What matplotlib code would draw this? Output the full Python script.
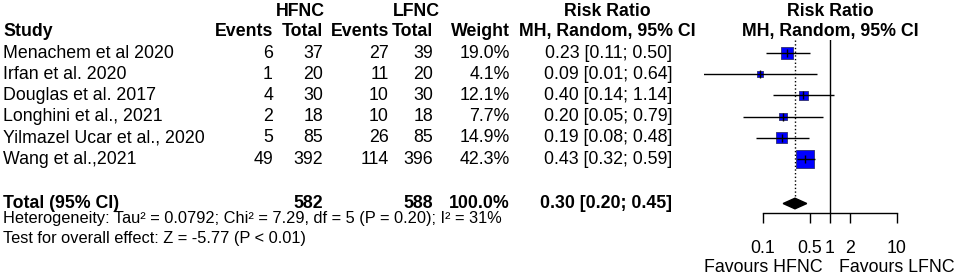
import matplotlib.pyplot as plt
import numpy as np

plt.rcParams['font.family'] = ['Liberation Sans', 'DejaVu Sans']

studies = ["Menachem et al 2020", "Irfan et al. 2020", "Douglas et al. 2017",
           "Longhini et al., 2021", "Yilmazel Ucar et al., 2020", "Wang et al.,2021"]
hfnc_events = [6, 1, 4, 2, 5, 49]
hfnc_total = [37, 20, 30, 18, 85, 392]
lfnc_events = [27, 11, 10, 10, 26, 114]
lfnc_total = [39, 20, 30, 18, 85, 396]
weights = [19.0, 4.1, 12.1, 7.7, 14.9, 42.3]
rr = [0.23, 0.09, 0.40, 0.20, 0.19, 0.43]
rr_low = [0.11, 0.01, 0.14, 0.05, 0.08, 0.32]
rr_high = [0.50, 0.64, 1.14, 0.79, 0.48, 0.59]

total_hfnc = 582
total_lfnc = 588
total_weight = 100.0
pooled_rr = 0.30
pooled_low = 0.20
pooled_high = 0.45

xticks = [0.1, 0.5, 1, 2, 10]
xticklabels = ["0.1", "0.5", "1", "2", "10"]

W, H = 957, 276
FS = 12.8
FS_B = 12.8
FS_SMALL = 11.8


def fx(px):
    return px / W


def fy(py):
    return 1 - py / H


def row_px(k):
    return 53 + 21.2 * k


fig = plt.figure(figsize=(W / 100, H / 100), dpi=100)

# table headers
hdr = dict(fontsize=FS_B, fontweight='bold', va='center')
fig.text(fx(300), fy(12), "HFNC", ha='center', **hdr)
fig.text(fx(416), fy(12), "LFNC", ha='center', **hdr)
fig.text(fx(607), fy(12), "Risk Ratio", ha='center', **hdr)
fig.text(fx(830), fy(12), "Risk Ratio", ha='center', **hdr)
fig.text(fx(3), fy(31), "Study", ha='left', **hdr)
fig.text(fx(273), fy(31), "Events", ha='right', **hdr)
fig.text(fx(323), fy(31), "Total", ha='right', **hdr)
fig.text(fx(389), fy(31), "Events", ha='right', **hdr)
fig.text(fx(433), fy(31), "Total", ha='right', **hdr)
fig.text(fx(510), fy(31), "Weight", ha='right', **hdr)
fig.text(fx(607), fy(31), "MH, Random, 95% CI", ha='center', **hdr)
fig.text(fx(830), fy(31), "MH, Random, 95% CI", ha='center', **hdr)

# study rows
for k, name in enumerate(studies):
    y = fy(row_px(k))
    fig.text(fx(3), y, name, ha='left', va='center', fontsize=FS)
    fig.text(fx(273), y, str(hfnc_events[k]), ha='right', va='center', fontsize=FS)
    fig.text(fx(323), y, str(hfnc_total[k]), ha='right', va='center', fontsize=FS)
    fig.text(fx(389), y, str(lfnc_events[k]), ha='right', va='center', fontsize=FS)
    fig.text(fx(433), y, str(lfnc_total[k]), ha='right', va='center', fontsize=FS)
    fig.text(fx(510), y, f"{weights[k]:.1f}%", ha='right', va='center', fontsize=FS)
    fig.text(fx(672), y, f"{rr[k]:.2f} [{rr_low[k]:.2f}; {rr_high[k]:.2f}]",
             ha='right', va='center', fontsize=FS)

# total row
k_tot = len(studies) + 1.1
y = fy(row_px(k_tot))
bold = dict(fontsize=FS_B, fontweight='bold', va='center')
fig.text(fx(3), y, "Total (95% CI)", ha='left', **bold)
fig.text(fx(323), y, str(total_hfnc), ha='right', **bold)
fig.text(fx(433), y, str(total_lfnc), ha='right', **bold)
fig.text(fx(510), y, f"{total_weight:.1f}%", ha='right', **bold)
fig.text(fx(672), y, f"{pooled_rr:.2f} [{pooled_low:.2f}; {pooled_high:.2f}]", ha='right', **bold)

fig.text(fx(3), fy(219), "Heterogeneity: Tau\u00b2 = 0.0792; Chi\u00b2 = 7.29, df = 5 (P = 0.20); I\u00b2 = 31%",
         ha='left', va='center', fontsize=FS_SMALL)
fig.text(fx(3), fy(239), "Test for overall effect: Z = -5.77 (P < 0.01)",
         ha='left', va='center', fontsize=FS_SMALL)

# forest panel
top_px, bot_px = 40, 213
left_px, right_px = 703.6, 917.2
ax = fig.add_axes([fx(left_px), fy(bot_px), (right_px - left_px) / W, (bot_px - top_px) / H])
ax.set_xscale('log')
ax.set_xlim(0.013, 20)
ax.set_ylim((bot_px - 53) / 21.2, (top_px - 53) / 21.2)

ax.axvline(1, color='black', lw=1)
ax.plot([pooled_rr, pooled_rr], [ax.get_ylim()[1], k_tot - 0.25], color='black', lw=1, ls=':')

ks = np.arange(len(studies))
ax.scatter(rr, ks, marker='s', s=np.array(weights) * 3.97, color='#0000ff',
           edgecolors='#303070', linewidths=0.6, zorder=3)
ax.hlines(ks, rr_low, rr_high, color='black', lw=1, zorder=4)
ax.scatter(rr, ks, marker='|', s=30, color='black', linewidths=1, zorder=5)

ax.fill([pooled_low, pooled_rr, pooled_high, pooled_rr],
        [k_tot, k_tot - 0.25, k_tot, k_tot + 0.25], color='black', zorder=4)

for s in ['top', 'left', 'right']:
    ax.spines[s].set_visible(False)
ax.spines['bottom'].set_bounds(0.1, 10)
ax.spines['bottom'].set_linewidth(1)
ax.set_xticks(xticks)
ax.set_xticklabels(xticklabels, fontsize=FS)
ax.xaxis.set_minor_locator(plt.NullLocator())
ax.tick_params(axis='x', direction='out', length=7.5, width=1, pad=12)
ax.set_yticks([])
ax.patch.set_visible(False)

ax.annotate("Favours HFNC", xy=(0.1, fy(267)), xycoords=('data', 'figure fraction'),
            ha='center', va='center', fontsize=FS, annotation_clip=False)
ax.annotate("Favours LFNC", xy=(10, fy(267)), xycoords=('data', 'figure fraction'),
            ha='center', va='center', fontsize=FS, annotation_clip=False)

fig.savefig("out.png", dpi=100)
